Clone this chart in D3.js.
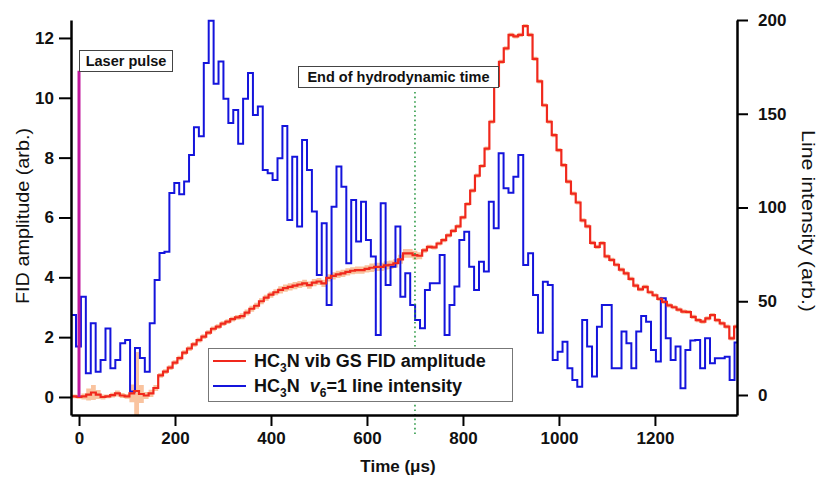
<!DOCTYPE html>
<html><head><meta charset="utf-8">
<script src="https://cdn.jsdelivr.net/npm/d3@7"></script>
<style>
body{margin:0;background:#fff;}
svg{display:block;font-family:"Liberation Sans",Arial,sans-serif;}
</style></head><body>
<svg id="chart" width="823" height="477"></svg>
<script>
// ---- tick labels ----
const xTicks = [0, 200, 400, 600, 800, 1000, 1200];
const yLeftTicks = [0, 2, 4, 6, 8, 10, 12];
const yRightTicks = [0, 50, 100, 150, 200];

// ---- blue: HC3N v6=1 line intensity (right axis), histogram bins ----
const blueBinStart = -16.5;
const blueBinWidth = 10.24;
const blueValues = [
  42.7, 25.8, 52.4, 11.6, 38.2, 12.4, 18.7, 35.5, 14.2, 18.7,
  27.6, 29.3, 1.8, 25, 19.7, 12.4, 38.2, 61.3, 75.7, 76.4,
  107.7, 113, 107, 113.8, 128, 142.8, 138, 177, 199.6, 166,
  177.8, 158, 145, 152, 134, 158, 171.7, 149.3, 153.8, 120,
  118.2, 114.7, 126.2, 143.5, 93.3, 127.1, 89.8, 136, 120, 97.8,
  64, 91.6, 48, 100.4, 121.8, 111, 70.2, 104, 81.8, 103.1,
  82.7, 73.8, 32, 102.2, 58.7, 68.4, 89.8, 52.4, 64.9, 48,
  40, 35.6, 56, 59.6, 59.6, 74.7, 32, 48, 57.8, 82.7,
  87.1, 68.4, 56, 71.1, 65.8, 103.1, 88.9, 128.9, 110.2, 107.9,
  116.4, 128, 69.3, 75.6, 53.3, 33.2, 60.4, 58.7, 18.7, 23.1,
  28.4, 14.2, 8, 4.4, 40, 25.8, 9.8, 36.4, 48, 48,
  14.2, 14.2, 33.8, 27.6, 14.2, 33.8, 42.1, 39.1, 24, 17.8,
  51.6, 30.2, 18.7, 25.8, 3.6, 24, 29, 29.3, 14.2, 30.2,
  16.9, 19.6, 19.6, 20.4, 8, 28
];

// ---- red: HC3N vib GS FID amplitude (left axis) ----
const redStart = -15;
const redStep = 10;
const redValues = [
  0.02, 0.0, 0.02, 0.08, 0.15, 0.08, 0.0, 0.02, 0.06, 0.12,
  0.05, 0.02, 0.12, 0.2, 0.1, 0.05, 0.12, 0.3, 0.72, 0.85,
  0.98, 1.15, 1.3, 1.48, 1.62, 1.76, 1.9, 2.02, 2.15, 2.28,
  2.35, 2.45, 2.52, 2.6, 2.66, 2.7, 2.82, 2.95, 3.05, 3.2,
  3.32, 3.42, 3.5, 3.58, 3.64, 3.68, 3.72, 3.76, 3.8, 3.74,
  3.82, 3.86, 3.8, 3.98, 4.05, 4.1, 4.13, 4.18, 4.22, 4.24,
  4.24, 4.28, 4.32, 4.35, 4.35, 4.4, 4.42, 4.47, 4.6, 4.8,
  4.8, 4.74, 4.72, 4.9, 5.02, 5.0, 5.13, 5.24, 5.4, 5.55,
  5.7, 6.0, 6.45, 6.9, 7.4, 7.72, 8.3, 9.2, 10.4, 11.2,
  11.65, 12.1, 12.05, 12.1, 12.4, 12.1, 11.3, 10.55, 9.75, 9.2,
  8.75, 8.25, 7.75, 7.2, 6.8, 6.5, 5.9, 5.7, 5.15, 5.02,
  5.14, 4.7, 4.58, 4.42, 4.26, 4.13, 3.95, 3.72, 3.6, 3.68,
  3.5, 3.4, 3.28, 3.18, 3.06, 3.0, 2.92, 2.85, 2.84, 2.68,
  2.57, 2.52, 2.63, 2.74, 2.57, 2.46, 2.35, 1.96, 2.35
];
const redErrors = [
  0.06, 0.06, 0.1, 0.2, 0.25, 0.15, 0.08, 0.06, 0.08, 0.1,
  0.08, 0.08, 0.3, 1.3, 0.3, 0.12, 0.12, 0.1, 0.08, 0.08,
  0.08, 0.08, 0.08, 0.08, 0.08, 0.08, 0.08, 0.08, 0.08, 0.08,
  0.08, 0.08, 0.08, 0.08, 0.08, 0.1, 0.1, 0.1, 0.1, 0.1,
  0.1, 0.1, 0.1, 0.12, 0.12, 0.12, 0.12, 0.12, 0.12, 0.12,
  0.12, 0.12, 0.12, 0.12, 0.12, 0.12, 0.12, 0.12, 0.12, 0.12,
  0.12, 0.12, 0.14, 0.14, 0.14, 0.14, 0.14, 0.14, 0.15, 0.15,
  0.15, 0.15, 0.12, 0.08, 0.07, 0.07, 0.07, 0.07, 0.07, 0.07,
  0.07, 0.07, 0.07, 0.07, 0.07, 0.07, 0.07, 0.07, 0.07, 0.07,
  0.07, 0.07, 0.07, 0.07, 0.07, 0.07, 0.07, 0.07, 0.07, 0.07,
  0.07, 0.07, 0.07, 0.07, 0.07, 0.07, 0.07, 0.07, 0.07, 0.07,
  0.07, 0.07, 0.07, 0.07, 0.07, 0.07, 0.07, 0.07, 0.07, 0.07,
  0.07, 0.07, 0.07, 0.07, 0.07, 0.07, 0.07, 0.07, 0.07, 0.07,
  0.07, 0.07, 0.07, 0.07, 0.07, 0.07, 0.07, 0.07, 0.07
];

// ---- annotations ----
const laserTime = 0, laserTop = 10.9;
const hydroTime = 700;

const svg = d3.select("#chart");
const plot = {left: 71, right: 737, top: 20, bottom: 415};

const x = d3.scaleLinear().domain([-16.7, 1371]).range([plot.left, plot.right]);
const yL = d3.scaleLinear().domain([-0.602, 12.6]).range([plot.bottom, plot.top]);
const yR = d3.scaleLinear().domain([-10.67, 200]).range([plot.bottom, plot.top]);

svg.append("defs").append("clipPath").attr("id", "clip")
  .append("rect").attr("x", plot.left).attr("y", 0)
  .attr("width", plot.right - plot.left).attr("height", plot.bottom);

const g = svg.append("g").attr("clip-path", "url(#clip)");

// red data with errors
const redData = redValues.map((v, i) => ({t: redStart + i * redStep, v, e: redErrors[i]}));
redData.push({t: redStart + redValues.length * redStep, v: redValues[redValues.length - 1], e: redErrors[redErrors.length - 1]});

g.append("path").datum(redData)
  .attr("fill", "#f6a36b").attr("fill-opacity", 0.65)
  .attr("d", d3.area().curve(d3.curveStepAfter)
    .x(d => x(d.t)).y0(d => yL(d.v - d.e)).y1(d => yL(d.v + d.e)));

// blue step
const blueData = blueValues.map((v, i) => ({t: blueBinStart + i * blueBinWidth, v}));
blueData.push({t: blueBinStart + blueValues.length * blueBinWidth, v: blueValues[blueValues.length - 1]});

g.append("path").datum(blueData)
  .attr("fill", "none").attr("stroke", "#1414dc").attr("stroke-width", 2)
  .attr("d", d3.line().curve(d3.curveStepAfter).x(d => x(d.t)).y(d => yR(d.v)));

// red line
g.append("path").datum(redData)
  .attr("fill", "none").attr("stroke", "#f0281c").attr("stroke-width", 2.2)
  .attr("d", d3.line().curve(d3.curveStepAfter).x(d => x(d.t)).y(d => yL(d.v)));

// hydrodynamic time line
svg.append("line")
  .attr("x1", x(hydroTime)).attr("x2", x(hydroTime))
  .attr("y1", 92).attr("y2", plot.bottom + 20)
  .attr("stroke", "#2e9a46").attr("stroke-width", 1.6)
  .attr("stroke-dasharray", "1.6,3");

// laser pulse line
svg.append("line")
  .attr("x1", x(laserTime)).attr("x2", x(laserTime))
  .attr("y1", yL(0)).attr("y2", yL(laserTop))
  .attr("stroke", "#c0189c").attr("stroke-width", 3);

// axes
const fmt = d3.format("d");
const axL = svg.append("g").attr("transform", `translate(${plot.left},0)`)
  .call(d3.axisLeft(yL).tickValues(yLeftTicks).tickFormat(fmt).tickSize(12).tickSizeOuter(0).tickPadding(5));
const axR = svg.append("g").attr("transform", `translate(${plot.right},0)`)
  .call(d3.axisRight(yR).tickValues(yRightTicks).tickFormat(fmt).tickSize(11).tickSizeOuter(0).tickPadding(10));
const axB = svg.append("g").attr("transform", `translate(0,${plot.bottom})`)
  .call(d3.axisBottom(x).tickValues(xTicks).tickFormat(fmt).tickSize(11).tickSizeOuter(0).tickPadding(6));

[axL, axR, axB].forEach(a => {
  a.select(".domain").attr("stroke", "#000").attr("stroke-width", 2.5);
  a.selectAll(".tick line").attr("stroke", "#000").attr("stroke-width", 2);
  a.selectAll(".tick text").attr("fill", "#111")
    .style("font-family", "'Liberation Sans', Arial, sans-serif")
    .style("font-size", "17px").style("font-weight", "bold");
});

// axis titles
svg.append("text")
  .attr("transform", "translate(29,216) rotate(-90)")
  .attr("text-anchor", "middle")
  .style("font-size", "18px").attr("fill", "#111")
  .attr("textLength", 176).attr("lengthAdjust", "spacingAndGlyphs")
  .text("FID amplitude (arb.)");
svg.append("text")
  .attr("transform", "translate(802,221) rotate(90)")
  .attr("text-anchor", "middle")
  .style("font-size", "18px").attr("fill", "#111")
  .attr("textLength", 182).attr("lengthAdjust", "spacingAndGlyphs")
  .text("Line intensity (arb.)");
svg.append("text")
  .attr("x", 398).attr("y", 472)
  .attr("text-anchor", "middle")
  .style("font-size", "17px").style("font-weight", "bold").attr("fill", "#111")
  .text("Time (μs)");

// annotation boxes
function labelBox(x0, y0, w, h, txt) {
  svg.append("rect").attr("x", x0).attr("y", y0).attr("width", w).attr("height", h)
    .attr("fill", "#fff").attr("stroke", "#444").attr("stroke-width", 1);
  svg.append("text").attr("x", x0 + w / 2).attr("y", y0 + h / 2 + 5)
    .attr("text-anchor", "middle").style("font-size", "14.5px").style("font-weight", "bold")
    .attr("fill", "#111").text(txt);
}
labelBox(79.5, 50.5, 93, 21, "Laser pulse");
labelBox(298.5, 66.5, 200, 21, "End of hydrodynamic time");

// legend
const lg = svg.append("g");
lg.append("rect").attr("x", 208.5).attr("y", 348.5).attr("width", 304).attr("height", 53)
  .attr("fill", "#fff").attr("stroke", "#777").attr("stroke-width", 1);
lg.append("line").attr("x1", 213).attr("x2", 246).attr("y1", 361).attr("y2", 361)
  .attr("stroke", "#f0281c").attr("stroke-width", 2);
lg.append("line").attr("x1", 213).attr("x2", 246).attr("y1", 386).attr("y2", 386)
  .attr("stroke", "#1414dc").attr("stroke-width", 2);
const t1 = lg.append("text").attr("x", 254).attr("y", 367)
  .style("font-size", "18px").style("font-weight", "bold").attr("fill", "#111");
t1.append("tspan").text("HC");
t1.append("tspan").attr("dy", 5).style("font-size", "12px").text("3");
t1.append("tspan").attr("dy", -5).text("N vib GS FID amplitude");
const t2 = lg.append("text").attr("x", 254).attr("y", 392)
  .style("font-size", "18px").style("font-weight", "bold").attr("fill", "#111");
t2.append("tspan").text("HC");
t2.append("tspan").attr("dy", 5).style("font-size", "12px").text("3");
t2.append("tspan").attr("dy", -5).text("N");
t2.append("tspan").attr("dx", 10).style("font-style", "italic").text("v");
t2.append("tspan").attr("dy", 5).style("font-size", "12px").text("6");
t2.append("tspan").attr("dy", -5).text("=1 line intensity");
</script>
</body></html>
